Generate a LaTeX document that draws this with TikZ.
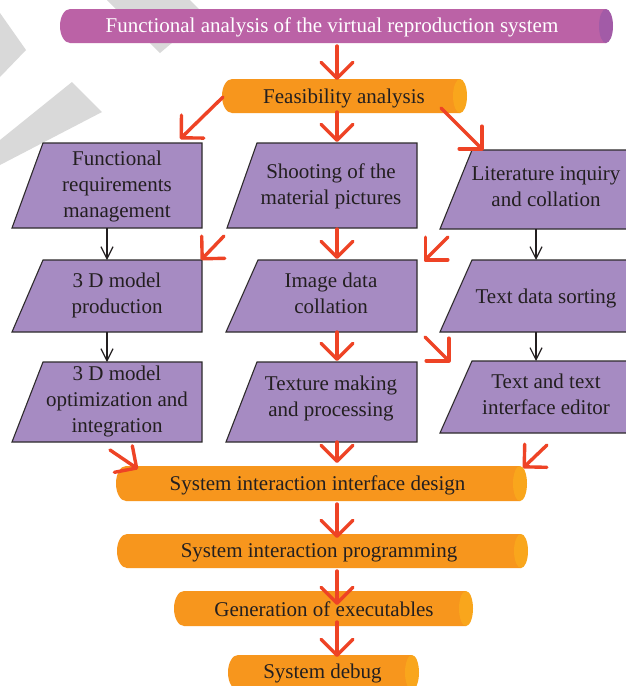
\documentclass[tikz,border=0pt]{standalone}
\usepackage{fontspec}
\setmainfont{Liberation Serif}
\usetikzlibrary{arrows.meta}

\definecolor{boxfill}{HTML}{A68BC2}
\definecolor{boxline}{HTML}{2E2B2C}
\definecolor{bannerbody}{HTML}{BB62A6}
\definecolor{bannercap}{HTML}{A25BA7}
\definecolor{pipebody}{HTML}{F7961D}
\definecolor{pipecap}{HTML}{F9A61C}
\definecolor{flowred}{HTML}{EE4325}
\definecolor{inkdark}{HTML}{231F20}
\definecolor{watermark}{HTML}{D9D9D9}

\tikzset{
  redflow/.style={draw=flowred, line width=3.4pt, line cap=round,
    -{Straight Barb[length=16pt,width=32pt,round]}},
  blackflow/.style={draw=inkdark, line width=1.2pt,
    -{Straight Barb[length=12pt,width=12pt]}},
  stepbox/.style={fill=boxfill, draw=boxline, line width=1.1pt, line join=miter},
  boxtext/.style={font=\fontsize{21}{26}\selectfont, text=inkdark, align=center,
    inner sep=0pt, execute at begin node=\strut, execute at end node=\strut},
  pipetext/.style={boxtext},
  bannertext/.style={boxtext, text=white},
}

% horizontal pipe: #1 body colour, #2 cap colour, #3 left end, #4 cap centre, #5 top, #6 bottom
\newcommand\drawpipe[6]{%
  \pgfmathsetmacro\piperad{(#6-#5)/2}%
  \pgfmathsetmacro\pipemid{(#6+#5)/2}%
  \fill[#1] (#3+10,#5) -- (#4,#5) -- (#4,#6) -- (#3+10,#6)
    arc[start angle=90,end angle=270,x radius=10,y radius=\piperad] -- cycle;
  \fill[#2] (#4,\pipemid) ellipse[x radius=7,y radius=\piperad];
}

\begin{document}
\begin{tikzpicture}[x=1pt,y=-1pt]
  \useasboundingbox (0,0) rectangle (626,686);
  \clip (0,0) rectangle (626,686);
  \fill[white] (0,0) rectangle (626,686);

  % light grey chevrons in the background
  \fill[watermark] (0,13) -- (26,50) -- (0,77) -- cycle;
  \fill[watermark] (107,0) -- (190,0) -- (205,15) -- (160,53) -- cycle;
  \fill[watermark] (72,82) -- (102,112) -- (0,165) -- (0,140) -- cycle;

  % pipes
  \drawpipe{bannerbody}{bannercap}{60}{606}{9}{43}
  \drawpipe{pipebody}{pipecap}{222}{460}{79}{113}
  \drawpipe{pipebody}{pipecap}{116}{520}{466}{501}
  \drawpipe{pipebody}{pipecap}{117}{521}{534}{568}
  \drawpipe{pipebody}{pipecap}{174}{466}{591}{626}
  \drawpipe{pipebody}{pipecap}{228}{412}{655}{690}

  \node[bannertext] (top) at (332,27.5) {Functional analysis of the virtual reproduction system};
  \node[pipetext] (feas) at (344,98.5) {Feasibility analysis};
  \node[pipetext] (siid) at (317.5,485.5) {System interaction interface design};
  \node[pipetext] (sip) at (319,552.5) {System interaction programming};
  \node[pipetext] (gen) at (324,611.5) {Generation of executables};
  \node[pipetext] (dbg) at (322.5,673.5) {System debug};

  % parallelogram steps
  \draw[stepbox] (43,143) -- (202,143) -- (202,228) -- (12,228) -- cycle;
  \draw[stepbox] (43,260) -- (202,260) -- (202,332) -- (12,332) -- cycle;
  \draw[stepbox] (43,362) -- (202,362) -- (202,442) -- (12,442) -- cycle;
  \draw[stepbox] (257,143) -- (417,143) -- (417,228) -- (227,228) -- cycle;
  \draw[stepbox] (258,260) -- (417,260) -- (417,332) -- (226,332) -- cycle;
  \draw[stepbox] (257,362) -- (417,362) -- (417,442) -- (226,442) -- cycle;
  \draw[stepbox] (472,150) -- (640,150) -- (640,229) -- (440,229) -- cycle;
  \draw[stepbox] (472,260) -- (640,260) -- (640,332) -- (440,332) -- cycle;
  \draw[stepbox] (472,361) -- (640,361) -- (640,433) -- (440,433) -- cycle;

  \node[boxtext] (l1) at (117,188) {Functional\\requirements\\management};
  \node[boxtext] (l2) at (117,297.5) {3 D model\\production};
  \node[boxtext] (l3) at (117,403) {3 D model\\optimization and\\integration};
  \node[boxtext] (m1) at (331,188.5) {Shooting of the\\material pictures};
  \node[boxtext] (m2) at (331,297.5) {Image data\\collation};
  \node[boxtext] (m3) at (331,400) {Texture making\\and processing};
  \node[boxtext] (r1) at (546,190.5) {Literature inquiry\\and collation};
  \node[boxtext] (r2) at (546,298) {Text data sorting};
  \node[boxtext] (r3) at (546,398) {Text and text\\interface editor};

  % connector end points
  \coordinate (topS) at (337,46);   \coordinate (feasN) at (337,80);
  \coordinate (feasS) at (337,112); \coordinate (m1N) at (337,142);
  \coordinate (feasW) at (223,97);  \coordinate (l1NE) at (180,139);
  \coordinate (feasE) at (441,108); \coordinate (r1NW) at (483,150);
  \coordinate (m1S) at (337,229);   \coordinate (m2N) at (337,259);
  \coordinate (m2S) at (337,332);   \coordinate (m3N) at (337,361);
  \coordinate (m3S) at (337,442);   \coordinate (siidN) at (337,463);
  \coordinate (siidS) at (337,504); \coordinate (sipN) at (337,538);
  \coordinate (sipS) at (337,571);  \coordinate (genN) at (337,605);
  \coordinate (genS) at (337,622);  \coordinate (dbgN) at (337,657);
  \coordinate (a5s) at (224,236);   \coordinate (l2NE) at (201,260);
  \coordinate (a7s) at (448,237);   \coordinate (m2NE) at (424,261);
  \coordinate (a9s) at (425,337);   \coordinate (r3NW) at (450,362);
  \coordinate (a10s) at (110,450);  \coordinate (siidNW) at (138,469);
  \coordinate (a12s) at (547,445);  \coordinate (siidNE) at (523,468);
  \coordinate (l1S) at (107,228);   \coordinate (l2N) at (107,260);
  \coordinate (l2S) at (107,332);   \coordinate (l3N) at (107,362);
  \coordinate (r1S) at (536,229);   \coordinate (r2N) at (536,260);
  \coordinate (r2S) at (536,332);   \coordinate (r3N) at (536,361);

  % black links inside the side columns
  \draw[blackflow] (l1S) -- (l2N);
  \draw[blackflow] (l2S) -- (l3N);
  \draw[blackflow] (r1S) -- (r2N);
  \draw[blackflow] (r2S) -- (r3N);

  % red flow arrows
  \draw[redflow] (topS) -- (feasN);
  \draw[redflow] (feasS) -- (m1N);
  \draw[redflow] (feasW) -- (l1NE);
  \draw[redflow] (feasE) -- (r1NW);
  \draw[redflow] (m1S) -- (m2N);
  \draw[redflow] (m2S) -- (m3N);
  \draw[redflow] (a5s) -- (l2NE);
  \draw[redflow] (a7s) -- (m2NE);
  \draw[redflow] (a9s) -- (r3NW);
  \draw[redflow] (m3S) -- (siidN);
  \draw[redflow] (a10s) -- (siidNW);
  \draw[redflow] (a12s) -- (siidNE);
  \draw[redflow] (siidS) -- (sipN);
  \draw[redflow] (sipS) -- (genN);
  \draw[redflow] (genS) -- (dbgN);
\end{tikzpicture}
\end{document}
